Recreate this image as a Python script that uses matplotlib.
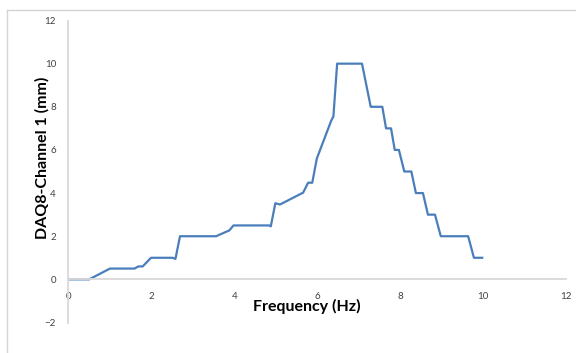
import matplotlib
matplotlib.use("Agg")
import matplotlib.pyplot as plt
from matplotlib.lines import Line2D

# values
freq_hz = [0.0, 0.5, 1.0, 1.59, 1.69, 1.79, 1.99, 2.51, 2.58, 2.69, 3.56, 3.88, 3.98,
           4.84, 4.88, 4.99, 5.1, 5.66, 5.78, 5.88, 5.99, 6.34, 6.39, 6.48, 6.52,
           7.04, 7.08, 7.29, 7.57, 7.66, 7.78, 7.87, 7.97, 8.1, 8.27, 8.38, 8.55,
           8.67, 8.84, 8.98, 9.64, 9.78, 9.98]
disp_mm = [0.0, 0.0, 0.5, 0.5, 0.6, 0.6, 1.0, 1.0, 0.95, 2.0, 2.0, 2.27, 2.5,
           2.5, 2.46, 3.53, 3.47, 4.02, 4.48, 4.48, 5.6, 7.37, 7.55, 10.0, 10.0,
           10.0, 10.0, 8.0, 8.0, 7.0, 7.0, 6.0, 6.0, 5.0, 5.0, 4.0, 4.0,
           3.0, 3.0, 2.0, 2.0, 1.0, 1.0]
xticks = [0, 2, 4, 6, 8, 10, 12]
yticks = [-2, 0, 2, 4, 6, 8, 10, 12]

plt.rcParams['font.family'] = ['Lato', 'DejaVu Sans']

fig = plt.figure(figsize=(5.76, 3.53), dpi=100)
ax = fig.add_axes([0.1189, 0.0864, 0.8637, 0.8555])

ax.plot(freq_hz, disp_mm, color='#4A7EBB', linewidth=1.6, solid_joinstyle='round')

ax.set_xlim(0, 12)
ax.set_ylim(-2, 12)
ax.set_xticks(xticks)
ax.set_yticks(yticks)
ax.tick_params(length=0, labelsize=7, labelcolor='#404040')
ax.tick_params(axis='x', pad=9)
ax.tick_params(axis='y', pad=9)

ax.spines['top'].set_visible(False)
ax.spines['right'].set_visible(False)
ax.spines['bottom'].set_position(('data', 0))
for s in ('left', 'bottom'):
  ax.spines[s].set_color('#D9D9D9')
  ax.spines[s].set_linewidth(1.3)

ax.set_xlabel('Frequency (Hz)', fontsize=11.5, fontweight='bold')
ax.xaxis.set_label_coords(0.479, 0.052)
ax.xaxis.label.set_va('center')
ax.set_ylabel('DAQ8-Channel 1 (mm)', fontsize=11.5, fontweight='bold')
ax.yaxis.set_label_coords(-0.053, 0.545)
ax.yaxis.label.set_va('center')

# partial chart-area border, as in the screenshot
bx = 7 / 576.
by = 1 - 10 / 353.
fig.add_artist(Line2D([bx, bx], [0, by], transform=fig.transFigure, color='#D4D4D4', linewidth=1))
fig.add_artist(Line2D([bx, 1], [by, by], transform=fig.transFigure, color='#D4D4D4', linewidth=1))

fig.savefig('out.png', dpi=100)
